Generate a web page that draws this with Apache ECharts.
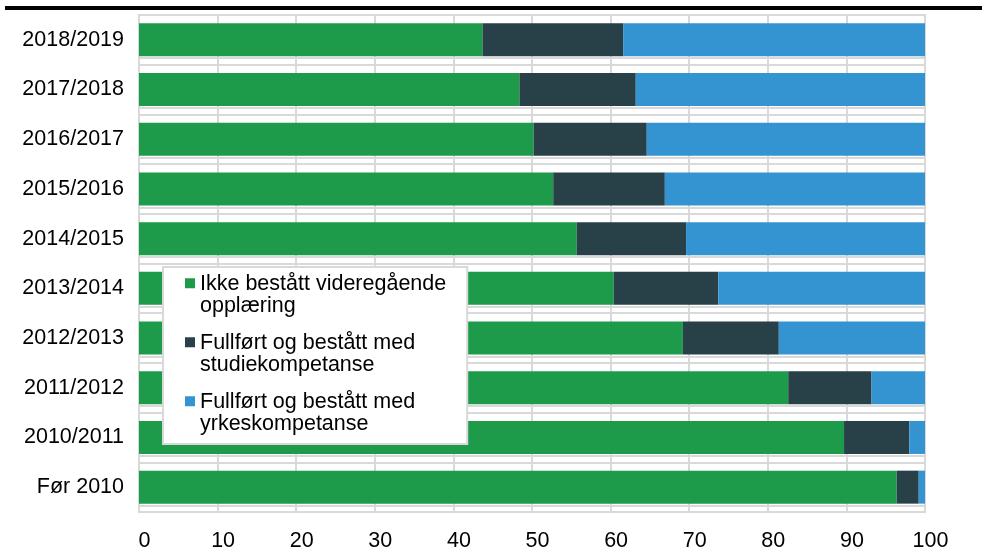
<!DOCTYPE html>
<html>
<head>
<meta charset="utf-8">
<script src="https://cdn.jsdelivr.net/npm/echarts@6/dist/echarts.min.js"></script>
<style>
  html, body { margin: 0; padding: 0; background: #fff; }
  #chart { width: 982px; height: 548px; }
</style>
</head>
<body>
<div id="chart"></div>
<script>
// kategorier fra bunn til topp
var categories = ['Før 2010', '2010/2011', '2011/2012', '2012/2013', '2013/2014',
                  '2014/2015', '2015/2016', '2016/2017', '2017/2018', '2018/2019'];
var ikkeBestatt = [96.4, 89.7, 82.6, 69.2, 60.4, 55.7, 52.7, 50.2, 48.4, 43.7];
var studiekomp  = [2.8, 8.3, 10.6, 12.2, 13.3, 13.9, 14.2, 14.4, 14.8, 17.9];
var yrkeskomp   = [0.8, 2.0, 6.8, 18.6, 26.3, 30.4, 33.1, 35.4, 36.8, 38.4];
var xTicks = [0, 10, 20, 30, 40, 50, 60, 70, 80, 90, 100];

var seriesNames = ['Ikke bestått videregående opplæring',
                   'Fullført og bestått med studiekompetanse',
                   'Fullført og bestått med yrkeskompetanse'];
var legendText = {};
legendText[seriesNames[0]] = 'Ikke bestått videregående\nopplæring';
legendText[seriesNames[1]] = 'Fullført og bestått med\nstudiekompetanse';
legendText[seriesNames[2]] = 'Fullført og bestått med\nyrkeskompetanse';

var grey = '#d9d9d9';
var font = 'Liberation Sans, Arial, sans-serif';
var fs = 21.5;
// firkant oppe i et høyere ikon, slik at markøren står ved første tekstlinje
var icon = 'path://M0,0L10,0L10,10L0,10Z M0,33.4L0.01,33.4';

var myChart = echarts.init(document.getElementById('chart'));
var option = {
  animation: false,
  textStyle: { fontFamily: font },
  grid: [
    { left: 139, right: 57, top: 15, bottom: 36, show: true, outerBoundsMode: 'none',
      borderColor: grey, borderWidth: 2, backgroundColor: 'transparent' },
    { left: 139, right: 57, top: 8.5, bottom: 42.5, outerBoundsMode: 'none' }
  ],
  xAxis: [
    {
      type: 'value', gridIndex: 0, min: 0, max: 100, interval: 10,
      axisLine: { show: false }, axisTick: { show: false },
      splitLine: { show: true, lineStyle: { color: grey, width: 2 } },
      axisLabel: {
        fontSize: fs, color: '#000', margin: 18, padding: [0, 0, 0, 11],
        formatter: function (v) { return xTicks.indexOf(v) >= 0 ? String(v) : ''; }
      }
    },
    { type: 'value', gridIndex: 1, min: 0, max: 100, show: false }
  ],
  yAxis: [
    {
      type: 'category', gridIndex: 0, data: categories,
      axisLine: { show: false }, axisTick: { show: false },
      splitLine: { show: true, lineStyle: { color: grey, width: 2 } },
      axisLabel: { fontSize: fs, color: '#000', margin: 15 }
    },
    {
      type: 'category', gridIndex: 1, data: categories,
      axisLine: { show: false }, axisTick: { show: false }, axisLabel: { show: false },
      splitLine: { show: true, lineStyle: { color: grey, width: 2 } }
    }
  ],
  legend: {
    orient: 'vertical', left: 163, top: 267,
    padding: [6, 21, 9, 22],
    backgroundColor: '#fff', borderColor: grey, borderWidth: 2,
    itemWidth: 10, itemHeight: 33.4, itemGap: 15,
    icon: icon,
    data: seriesNames,
    formatter: function (name) { return legendText[name]; },
    textStyle: { fontSize: fs, color: '#000', lineHeight: 22, fontFamily: font },
    selectedMode: false
  },
  series: [
    { name: seriesNames[0], type: 'bar', stack: 'tot', data: ikkeBestatt,
      barWidth: 33, itemStyle: { color: '#1d9b4a' } },
    { name: seriesNames[1], type: 'bar', stack: 'tot', data: studiekomp,
      barWidth: 33, itemStyle: { color: '#284148' } },
    { name: seriesNames[2], type: 'bar', stack: 'tot', data: yrkeskomp,
      barWidth: 33, itemStyle: { color: '#3494d2' } }
  ],
  graphic: [
    { type: 'rect', left: 5, top: 6, z: 100,
      shape: { width: 977, height: 4 }, style: { fill: '#000' } }
  ]
};
myChart.setOption(option);
</script>
</body>
</html>
